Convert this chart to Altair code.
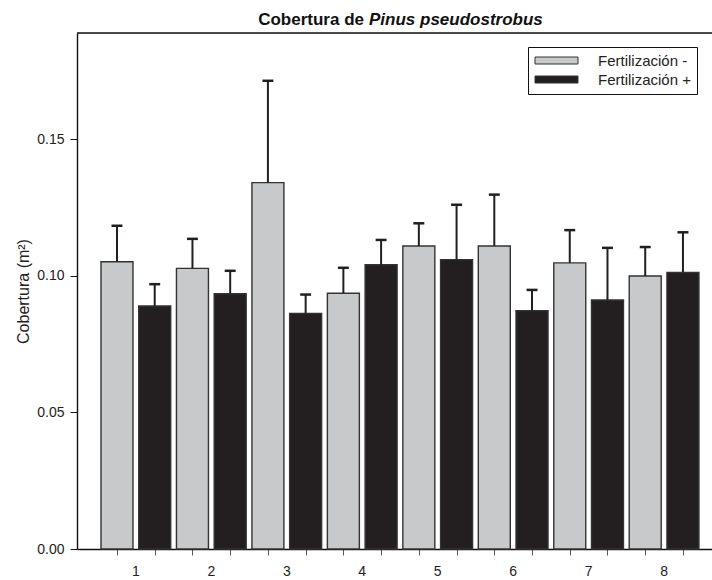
import altair as alt
import pandas as pd

groups = ["1", "2", "3", "4", "5", "6", "7", "8"]
treatments = ["Fertilización -", "Fertilización +"]
mean_minus = [0.1052, 0.1028, 0.1342, 0.0937, 0.1110, 0.1110, 0.1048, 0.1000]
upper_minus = [0.1184, 0.1136, 0.1715, 0.1030, 0.1193, 0.1298, 0.1168, 0.1106]
mean_plus = [0.0890, 0.0935, 0.0863, 0.1041, 0.1060, 0.0873, 0.0912, 0.1013]
upper_plus = [0.0970, 0.1019, 0.0932, 0.1132, 0.1261, 0.0949, 0.1103, 0.1160]
y_ticks = [0.0, 0.05, 0.10, 0.15]
y_max = 0.189

FONT = "Liberation Sans"
W, H = 635, 516
HALF = 0.424
CAP = 0.145

rows = []
for gi, g in enumerate(groups):
    for ti, (t, m, u) in enumerate([(treatments[0], mean_minus[gi], upper_minus[gi]),
                                     (treatments[1], mean_plus[gi], upper_plus[gi])]):
        pos = 2 * gi + 1 + ti
        rows.append({"group": g, "trat": t, "pos": pos, "x0": pos - HALF, "x1": pos + HALF,
                     "c0": pos - CAP, "c1": pos + CAP, "mean": m, "upper": u})
df = pd.DataFrame(rows)
lab = pd.DataFrame({"group": groups, "pos": [2 * i + 1.5 for i in range(len(groups))]})

xscale = alt.Scale(domain=[-0.06, 16.77], nice=False, zero=False)
yscale = alt.Scale(domain=[0, y_max], nice=False)

base = alt.Chart(df)

bars = base.mark_bar(stroke="#333333", strokeWidth=1.4).encode(
    x=alt.X("x0:Q", scale=xscale,
            axis=alt.Axis(values=list(range(1, 17)), labels=False, title=None, grid=False,
                          tickSize=6, tickColor="#555555", tickWidth=1,
                          domainColor="#111111", domainWidth=1.4, offset=0)),
    x2="x1:Q",
    y=alt.Y("mean:Q", scale=yscale,
            axis=alt.Axis(values=y_ticks, format=".2f", grid=False, tickSize=7,
                          tickColor="#111111", domainColor="#111111", domainWidth=1.4,
                          labelFont=FONT, labelFontSize=14, labelColor="#222222", labelPadding=6,
                          title="Cobertura (m²)", titleFont=FONT, titleFontSize=16,
                          titleFontWeight="normal", titleColor="#222222",
                          titleAngle=-90, titleX=-54, titleY=H / 2, titleBaseline="middle",
                          titleAlign="center")),
    y2=alt.datum(0),
    color=alt.Color("trat:N", sort=treatments,
                    scale=alt.Scale(domain=treatments, range=["#c8c9ca", "#231f20"]),
                    legend=alt.Legend(title=None, orient="none", legendX=451, legendY=14,
                                      strokeColor="#111111", padding=6, rowPadding=3,
                                      labelFont=FONT, labelFontSize=15, labelColor="#222222",
                                      symbolType="M-3.07,-0.5H3.07V0.5H-3.07Z", symbolSize=196,
                                      symbolOffset=15,
                                      symbolStrokeColor="#333333", symbolStrokeWidth=1,
                                      labelOffset=34, fillColor="white")),
)

err = base.mark_rule(color="#231f20", strokeWidth=2).encode(
    x=alt.X("pos:Q", scale=xscale), y="mean:Q", y2="upper:Q"
)
caps = base.mark_rule(color="#231f20", strokeWidth=2.5).encode(
    x=alt.X("c0:Q", scale=xscale), x2="c1:Q", y=alt.Y("upper:Q", scale=yscale)
)

top = alt.Chart(pd.DataFrame({"v": [y_max]})).mark_rule(color="#111111", strokeWidth=1.4).encode(
    y=alt.Y("v:Q", scale=yscale), x=alt.value(0), x2=alt.value(W)
)

labels = alt.Chart(lab).mark_text(font=FONT, fontSize=14, color="#222222", baseline="middle").encode(
    x=alt.X("pos:Q", scale=xscale), y=alt.value(H + 23), text="group:N"
)

t1 = alt.Chart(pd.DataFrame({"t": ["Cobertura de"]})).mark_text(
    font=FONT, fontSize=17, fontWeight="bold", align="right", baseline="middle", color="#111111"
).encode(x=alt.value(287), y=alt.value(-13), text="t:N")
t2 = alt.Chart(pd.DataFrame({"t": ["Pinus pseudostrobus"]})).mark_text(
    font=FONT, fontSize=17, fontWeight="bold", fontStyle="italic", align="left", baseline="middle",
    color="#111111"
).encode(x=alt.value(292), y=alt.value(-13), text="t:N")

chart = alt.layer(bars, err, caps, top, labels, t1, t2).properties(
    width=W, height=H,
    autosize=alt.AutoSizeParams(type="none"),
    padding={"left": 77, "top": 33, "right": 0, "bottom": 31},
).configure_view(stroke=None).configure(background="white")

chart.save("out.html", embed_options={"renderer": "svg", "actions": False})
